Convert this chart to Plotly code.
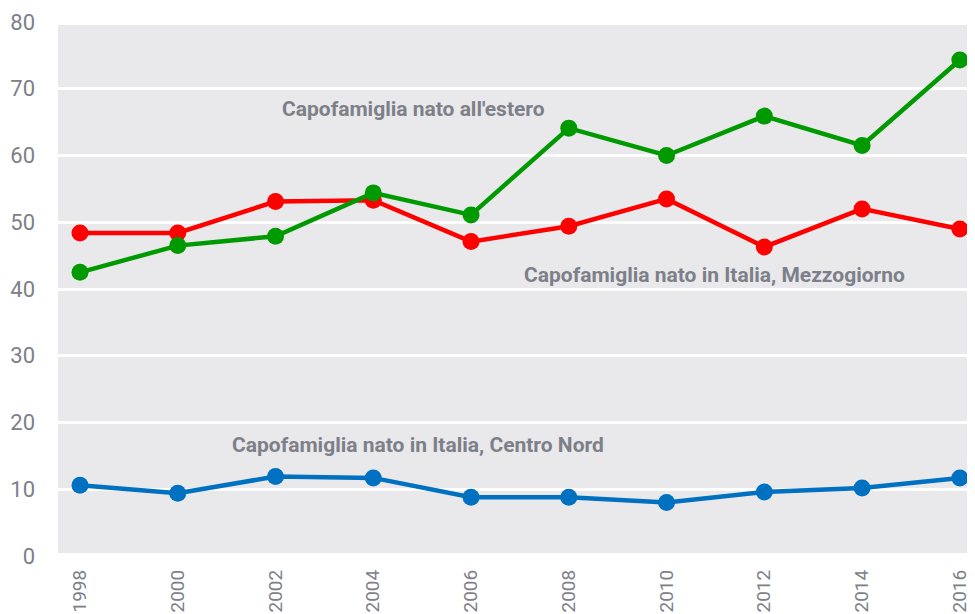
import plotly.graph_objects as go

years = [1998, 2000, 2002, 2004, 2006, 2008, 2010, 2012, 2014, 2016]
centro_nord = [10.6, 9.4, 11.9, 11.7, 8.8, 8.8, 8.0, 9.6, 10.2, 11.7]
mezzogiorno = [48.4, 48.4, 53.1, 53.3, 47.1, 49.4, 53.5, 46.3, 52.0, 49.0]
estero = [42.5, 46.5, 47.9, 54.4, 51.1, 64.1, 60.0, 65.9, 61.5, 74.3]
y_ticks = [0, 10, 20, 30, 40, 50, 60, 70, 80]

labels = ["Capofamiglia nato all'estero",
          "Capofamiglia nato in Italia, Mezzogiorno",
          "Capofamiglia nato in Italia, Centro Nord"]
label_x = [2004.83, 2010.99, 2004.91]
label_y = [66.9, 42.1, 16.6]

text_color = "#7d8088"
fig = go.Figure()
for vals, col in [(centro_nord, "#0070C0"), (mezzogiorno, "#FF0000"), (estero, "#009A00")]:
    fig.add_trace(go.Scatter(
        x=years, y=vals, mode="lines+markers",
        line=dict(color=col, width=4.5),
        marker=dict(color=col, size=17),
        showlegend=False, cliponaxis=False,
    ))

fig.add_shape(type="rect", xref="paper", yref="y", x0=0, x1=1, y0=0.45, y1=79.55,
              fillcolor="#E9E9EC", line=dict(width=0), layer="below")

for t, x, y in zip(labels, label_x, label_y):
    fig.add_annotation(x=x, y=y, text=t, showarrow=False,
                       font=dict(family="Roboto", size=21, color=text_color, weight="bold"))

# page body has an 8px margin, so the figure is sized to fill the remaining window
fig.update_layout(
    width=967, height=606,
    margin=dict(l=50, r=0, t=14, b=58),
    paper_bgcolor="white", plot_bgcolor="white",
    font=dict(family="Roboto", color=text_color),
)
fig.update_xaxes(range=[1997.55, 2016.31], tickvals=years, ticktext=[str(y) for y in years],
                 tickangle=-90, showgrid=False, zeroline=False, ticks="", automargin=False,
                 tickfont=dict(size=19, color=text_color), ticklabelstandoff=9)
fig.update_yaxes(range=[0, 80], tickvals=y_ticks, showgrid=True, gridcolor="white", gridwidth=3,
                 zeroline=False, ticks="", automargin=False,
                 tickfont=dict(size=22, color=text_color), ticklabelstandoff=22)

fig.write_html("out.html")
